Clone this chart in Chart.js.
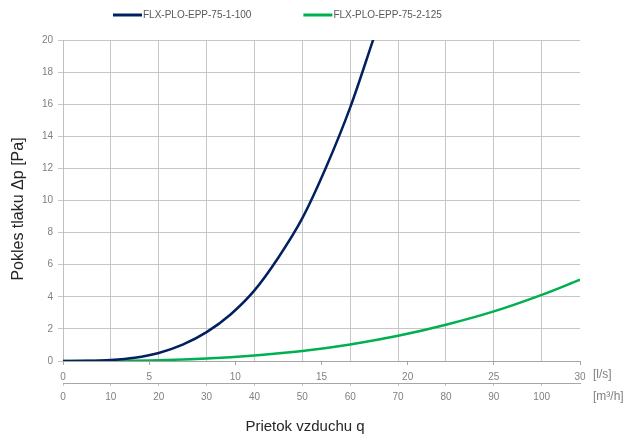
<!DOCTYPE html>
<html>
<head>
<meta charset="utf-8">
<script src="https://cdn.jsdelivr.net/npm/chart.js@4.4.1/dist/chart.umd.min.js"></script>
<style>
  html, body { margin: 0; padding: 0; background: #fff; }
  #wrap { width: 632px; height: 435px; position: relative; }
</style>
</head>
<body>
<div id="wrap"><canvas id="myChart"></canvas></div>
<script>
// flow in m3/h, pressure drop in Pa
let flowBlue = [0, 5, 10, 15, 20, 25, 30, 35, 40, 45, 50, 55, 60, 65];
let dpBlue = [0, 0.01, 0.06, 0.2, 0.5, 1.02, 1.8, 2.9, 4.4, 6.45, 8.9, 12.1, 15.8, 20.2];

let flowGreen = [0, 10, 20, 30, 40, 50, 60, 70, 80, 90, 100, 108];
let dpGreen = [0, 0.01, 0.05, 0.16, 0.35, 0.62, 1.03, 1.57, 2.26, 3.09, 4.12, 5.07];

let seriesNames = ["FLX-PLO-EPP-75-1-100", "FLX-PLO-EPP-75-2-125"];
let seriesColors = ["#002060", "#00b050"];

let lsMax = 30; // l/s
let m3hMax = 108; // same span in m3/h

let tickGray = "#808080";
let gridGray = "#c6c6c6";
let font = "'Liberation Sans', Arial, sans-serif";

function toPoints(xs, ys) {
  return xs.map((x, i) => ({ x: x, y: ys[i] }));
}

// legend, unit labels and axis titles
let extraText = {
  id: "extraText",
  afterDraw(chart) {
    let ctx = chart.ctx;
    let area = chart.chartArea;
    ctx.save();

    // legend row
    ctx.font = "10px " + font;
    ctx.textAlign = "left";
    ctx.textBaseline = "middle";
    let lx = 113;
    chart.data.datasets.forEach((ds) => {
      ctx.strokeStyle = ds.borderColor;
      ctx.lineWidth = 3;
      ctx.beginPath();
      ctx.moveTo(lx, 15);
      ctx.lineTo(lx + 29, 15);
      ctx.stroke();
      ctx.fillStyle = "#595959";
      ctx.fillText(ds.label, lx + 30, 15);
      lx += 30 + ctx.measureText(ds.label).width + 52;
    });

    ctx.fillStyle = tickGray;
    ctx.font = "12px " + font;
    ctx.fillText("[l/s]", area.right + 13, 375);
    ctx.fillText("[m\u00b3/h]", area.right + 13, 397);

    ctx.fillStyle = "#262626";
    ctx.font = "15px " + font;
    ctx.textAlign = "center";
    ctx.fillText("Prietok vzduchu q", 305, 427);

    ctx.font = "16px " + font;
    ctx.translate(19, 209);
    ctx.rotate(-Math.PI / 2);
    ctx.fillText("Pokles tlaku \u0394p [Pa]", 0, 0);
    ctx.restore();
  },
};

let ctxChart = document.getElementById("myChart").getContext("2d");

let pressureChart = new Chart(ctxChart, {
  type: "line",
  data: {
    datasets: [
      {
        label: seriesNames[0],
        data: toPoints(flowBlue, dpBlue),
        borderColor: seriesColors[0],
        borderWidth: 2.5,
        pointRadius: 0,
        cubicInterpolationMode: "monotone",
        xAxisID: "xm",
      },
      {
        label: seriesNames[1],
        data: toPoints(flowGreen, dpGreen),
        borderColor: seriesColors[1],
        borderWidth: 2.5,
        pointRadius: 0,
        cubicInterpolationMode: "monotone",
        xAxisID: "xm",
      },
    ],
  },
  options: {
    responsive: true,
    maintainAspectRatio: false,
    animation: false,
    layout: { padding: { left: 0, right: 52, top: 40, bottom: 22 } },
    plugins: {
      legend: { display: false },
      tooltip: { enabled: false },
    },
    scales: {
      y: {
        min: 0,
        max: 20,
        ticks: { stepSize: 2, color: tickGray, font: { family: font, size: 10 }, padding: 5 },
        grid: { color: gridGray, tickLength: 5 },
        border: { color: "#bfbfbf" },
        afterFit(scale) {
          scale.width = 63;
        },
      },
      xls: {
        type: "linear",
        position: "bottom",
        weight: 1,
        min: 0,
        max: lsMax,
        ticks: { stepSize: 5, color: tickGray, font: { family: font, size: 10 }, padding: 6, maxRotation: 0 },
        grid: { drawOnChartArea: false, color: "#a6a6a6", tickLength: 4 },
        border: { color: "#a6a6a6" },
        afterFit(scale) {
          scale.height = 22;
        },
      },
      xm: {
        type: "linear",
        position: "bottom",
        weight: 2,
        min: 0,
        max: m3hMax,
        ticks: {
          stepSize: 10,
          includeBounds: false,
          color: tickGray,
          font: { family: font, size: 10 },
          padding: 5,
          maxRotation: 0,
        },
        grid: { color: gridGray, tickLength: 3 },
        border: { color: "#a6a6a6" },
        afterFit(scale) {
          scale.height = 30;
        },
      },
    },
  },
  plugins: [extraText],
});
</script>
</body>
</html>
